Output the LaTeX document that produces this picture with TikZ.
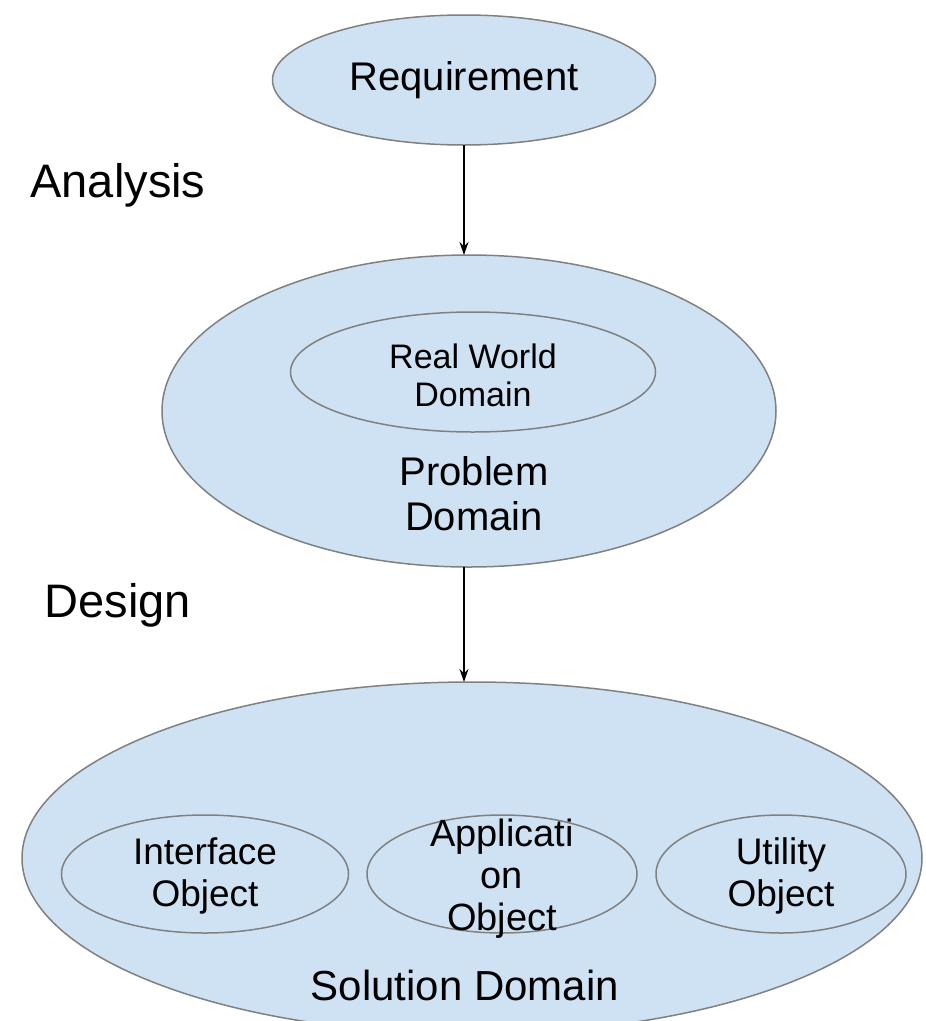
\documentclass[tikz,border=0pt]{standalone}
\usepackage{fontspec}
\setmainfont{Liberation Sans}
\usetikzlibrary{shapes.geometric,arrows.meta}
\definecolor{fillblue}{HTML}{CFE2F3}
\definecolor{edgegray}{HTML}{808080}
\tikzset{
  oval/.style={ellipse, draw=edgegray, fill=fillblue, line width=1.5pt, inner sep=0pt, outer sep=0pt},
  inoval/.style={ellipse, draw=edgegray, line width=1.5pt, inner sep=0pt, outer sep=0pt},
  lbl/.style={align=center, inner sep=0pt, text=black},
  arr/.style={-{Stealth[length=13pt,width=9pt]}, line width=1.5pt, black},
}
\newcommand{\fs}[2]{\fontsize{#1}{#2}\selectfont}
\begin{document}
\begin{tikzpicture}[x=1pt,y=1pt]
\useasboundingbox (0,0) rectangle (926,-1021);
% Requirement
\node[oval, minimum width=383pt, minimum height=130pt] (req) at (464,-80) {};
\node[lbl, font=\fs{40}{45}] (reqt) at (464,-80) {Requirement};
% Analysis
\node[lbl, font=\fs{47}{50}] (ana) at (118,-185) {Analysis};
% Problem domain
\node[oval, minimum width=614pt, minimum height=312pt] (prob) at (469,-411) {};
\node[inoval, fill=fillblue, minimum width=365pt, minimum height=120pt] (real) at (473,-372) {};
\node[lbl, font=\fs{34}{38}] (realt) at (473,-375) {Real World\\Domain};
\node[lbl, font=\fs{40}{45}] (probt) at (474,-494) {Problem\\Domain};
% Design
\node[lbl, font=\fs{47}{50}] (des) at (118,-605) {Design};
% Solution domain
\begin{scope}
\clip (0,0) rectangle (926,-1021);
\node[oval, minimum width=900pt, minimum height=352pt] (sol) at (472,-858) {};
\end{scope}
\node[inoval, minimum width=287pt, minimum height=118pt] (intf) at (205,-874) {};
\node[inoval, minimum width=270pt, minimum height=118pt] (app) at (502,-874) {};
\node[inoval, minimum width=250pt, minimum height=118pt] (util) at (781,-874) {};
\node[lbl, font=\fs{37}{42}] (intft) at (205,-876) {Interface\\Object};
\node[lbl, font=\fs{38}{42}] (appt) at (502,-879) {Applicati\\on\\Object};
\node[lbl, font=\fs{37}{42}] (utilt) at (781,-876) {Utility\\Object};
\node[lbl, font=\fs{42}{45}] (solt) at (465,-985) {Solution Domain};
% arrows
\draw[arr] (req.south) -- (req.south |- prob.north);
\draw[arr] (req.south |- prob.south) -- (req.south |- sol.north);
\end{tikzpicture}
\end{document}
